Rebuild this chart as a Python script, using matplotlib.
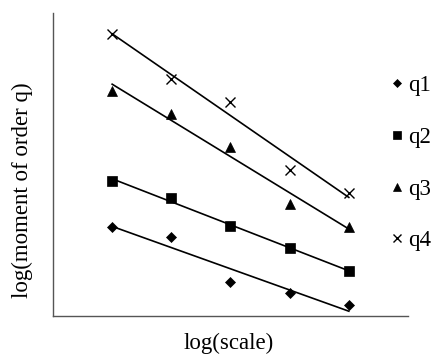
import matplotlib
matplotlib.use("Agg")
import matplotlib.pyplot as plt
import numpy as np

plt.rcParams['font.family'] = ['Liberation Serif', 'DejaVu Serif']

scale = [1, 2, 3, 4, 5]
q1 = [0.89, 0.79, 0.34, 0.23, 0.11]
q2 = [1.35, 1.18, 0.90, 0.68, 0.45]
q3 = [2.25, 2.02, 1.69, 1.12, 0.89]
q4 = [2.82, 2.37, 2.14, 1.46, 1.23]
labels = ["q1", "q2", "q3", "q4"]
markers = ["D", "s", "^", "x"]
msizes = [5, 6.5, 6.5, 6.5]

fig = plt.figure(figsize=(4.35, 3.54), dpi=100)
ax = fig.add_axes([53/435, 1 - 316/354, 355/435, 303/354])

x = np.array(scale, dtype=float)
handles = []
for ys, lab, m, ms in zip([q1, q2, q3, q4], labels, markers, msizes):
    ys = np.array(ys)
    h, = ax.plot(x, ys, linestyle='none', marker=m, color='black', markersize=ms,
                 markeredgewidth=1.0 if m == 'x' else 0.5, label=lab)
    handles.append(h)
    k, b = np.polyfit(x, ys, 1)
    ax.plot([x[0], x[-1]], [k * x[0] + b, k * x[-1] + b], color='black', linewidth=1.2)

ax.set_xlim(0, 6)
ax.set_ylim(0, 3.03)
ax.set_xticks([])
ax.set_yticks([])
for s in ['top', 'right']:
    ax.spines[s].set_visible(False)
for s in ['left', 'bottom']:
    ax.spines[s].set_color('#555555')
    ax.spines[s].set_linewidth(1.0)

ax.set_xlabel("log(scale)", fontsize=16.5)
ax.xaxis.set_label_coords(0.495, -0.055)
ax.set_ylabel("log(moment of order q)", fontsize=16.5)
ax.yaxis.set_label_coords(-0.057, 0.415)

fig.legend(handles=handles, labels=labels, loc='upper left',
           bbox_to_anchor=(392/435, 1 - 75/354), frameon=False,
           fontsize=16.5, handlelength=0.45, handletextpad=0.25,
           labelspacing=1.34, markerscale=0.8, borderaxespad=0,
           borderpad=0)

fig.savefig("out.png", dpi=100)
